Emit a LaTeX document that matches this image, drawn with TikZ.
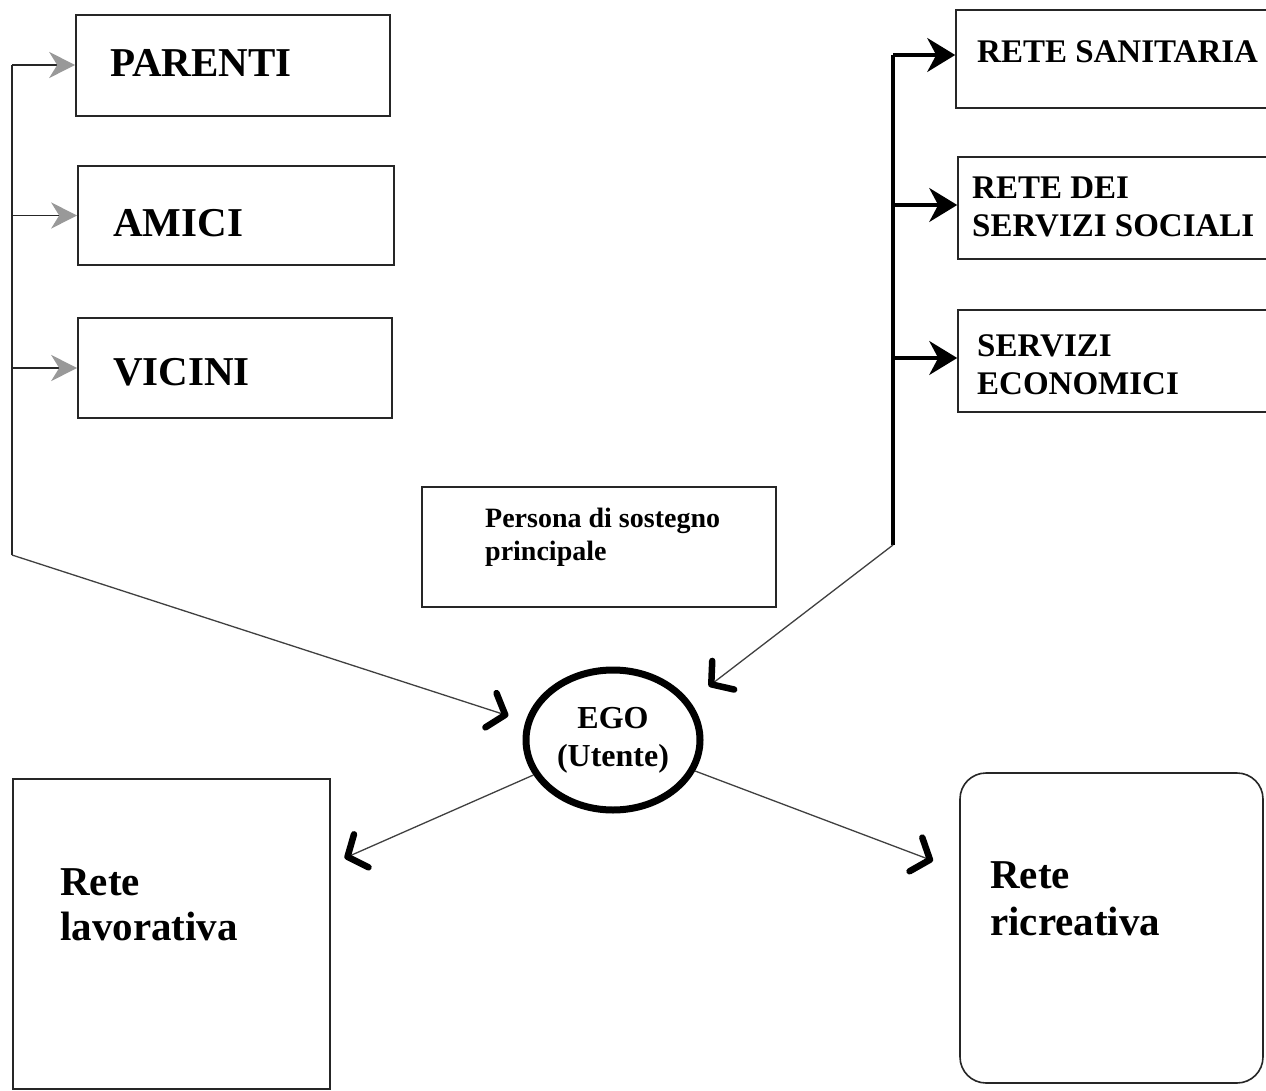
\documentclass[tikz,border=0pt]{standalone}
\usepackage{fontspec}
\setmainfont{Liberation Serif}
\usetikzlibrary{arrows.meta,shapes.geometric}

\begin{document}
\begin{tikzpicture}[x=1pt,y=-1pt,
  box/.style={draw=black!85, line width=1.6pt, inner sep=0pt, rectangle},
  lbl/.style={anchor=north west, inner sep=0pt, align=left},
  bigtxt/.style={font=\bfseries\fontsize{41}{45}\selectfont},
  midtxt/.style={font=\bfseries\fontsize{33}{38}\selectfont},
  smalltxt/.style={font=\bfseries\fontsize{28}{33}\selectfont},
  greytip/.tip={Stealth[length=26pt,width=26pt,inset=8pt,color=black!40]},
  blacktip/.tip={Stealth[length=28pt,width=34pt,inset=9pt]},
  handtip/.tip={Straight Barb[length=15pt,width=36pt,line width=6.5pt,round,color=black]},
  busleft/.style={draw=black!85, line width=1.8pt},
  busright/.style={draw=black, line width=3.2pt},
  egoline/.style={draw=black!75, line width=1.3pt, -handtip},
]
% page
\fill[white] (0,0) rectangle (1266,1091);
\useasboundingbox (0,0) rectangle (1266,1091);

% informal network (left column)
\node[box, minimum width=314pt, minimum height=101pt] (parenti) at (233,65.5) {};
\node[box, minimum width=316pt, minimum height=99pt] (amici) at (236,215.5) {};
\node[box, minimum width=314pt, minimum height=100pt] (vicini) at (235,368) {};
\node[lbl, bigtxt] (parentiT) at (110,49) {PARENTI};
\node[lbl, bigtxt] (amiciT) at (113,209) {AMICI};
\node[lbl, bigtxt] (viciniT) at (113,358) {VICINI};

% formal network (right column)
\node[box, minimum width=312pt, minimum height=98pt] (sanit) at (1112,59) {};
\node[box, minimum width=310pt, minimum height=102pt] (social) at (1113,208) {};
\node[box, minimum width=310pt, minimum height=102pt] (econ) at (1113,361) {};
\node[lbl, midtxt] (sanitT) at (977,40) {RETE SANITARIA};
\node[lbl, midtxt] (socialT) at (972,177) {RETE DEI\\SERVIZI SOCIALI};
\node[lbl, midtxt] (econT) at (977,334) {SERVIZI\\ECONOMICI};

% main support person
\node[box, minimum width=354pt, minimum height=120pt] (persona) at (599,547) {};
\node[lbl, smalltxt] (personaT) at (485,508) {Persona di sostegno\\principale};

% ego
\node[draw=black, line width=7pt, ellipse, minimum width=174pt, minimum height=140pt,
      inner sep=0pt, align=center, font=\bfseries\fontsize{32}{38}\selectfont]
      (ego) at (613,740) {EGO\\(Utente)};

% work and leisure networks
\node[box, minimum width=317pt, minimum height=310pt] (lav) at (171.5,934) {};
\node[box, rounded corners=26pt, minimum width=303pt, minimum height=310pt] (ric) at (1111.5,928) {};
\node[lbl, bigtxt] (lavT) at (60,868) {Rete\\lavorativa};
\node[lbl, bigtxt, font=\bfseries\fontsize{41}{47}\selectfont] (ricT) at (990,861) {Rete\\ricreativa};

% left bus
\coordinate (lbTop) at (12,65);
\coordinate (lbBot) at (12,555);
\draw[busleft] (lbTop) -- (lbBot);
\draw[busleft, -greytip] (lbTop) -- (parenti.west |- lbTop);
\draw[busleft, -greytip] (lbTop |- amici.west) -- (amici.west);
\draw[busleft, -greytip] (lbTop |- vicini.west) -- (vicini.west);
\draw[egoline, shorten >=18pt] (lbBot) -- (ego.168);

% right bus
\coordinate (rbTop) at (893,55);
\coordinate (rbBot) at (893,545);
\draw[busright] (rbTop) -- (rbBot);
\draw[busright, -blacktip] (rbTop) -- (sanit.west |- rbTop);
\draw[busright, -blacktip] ([yshift=3pt]rbTop |- social.west) -- ([yshift=3pt]social.west);
\draw[busright, -blacktip] ([yshift=3pt]rbTop |- econ.west) -- ([yshift=3pt]econ.west);
\draw[egoline, shorten >=24pt] (rbBot) -- (ego.27);

% ego towards work and leisure
\draw[egoline, shorten >=15pt] (ego) -- (lav);
\draw[egoline, shorten >=28pt] (ego) -- (ric);
\end{tikzpicture}
\end{document}
